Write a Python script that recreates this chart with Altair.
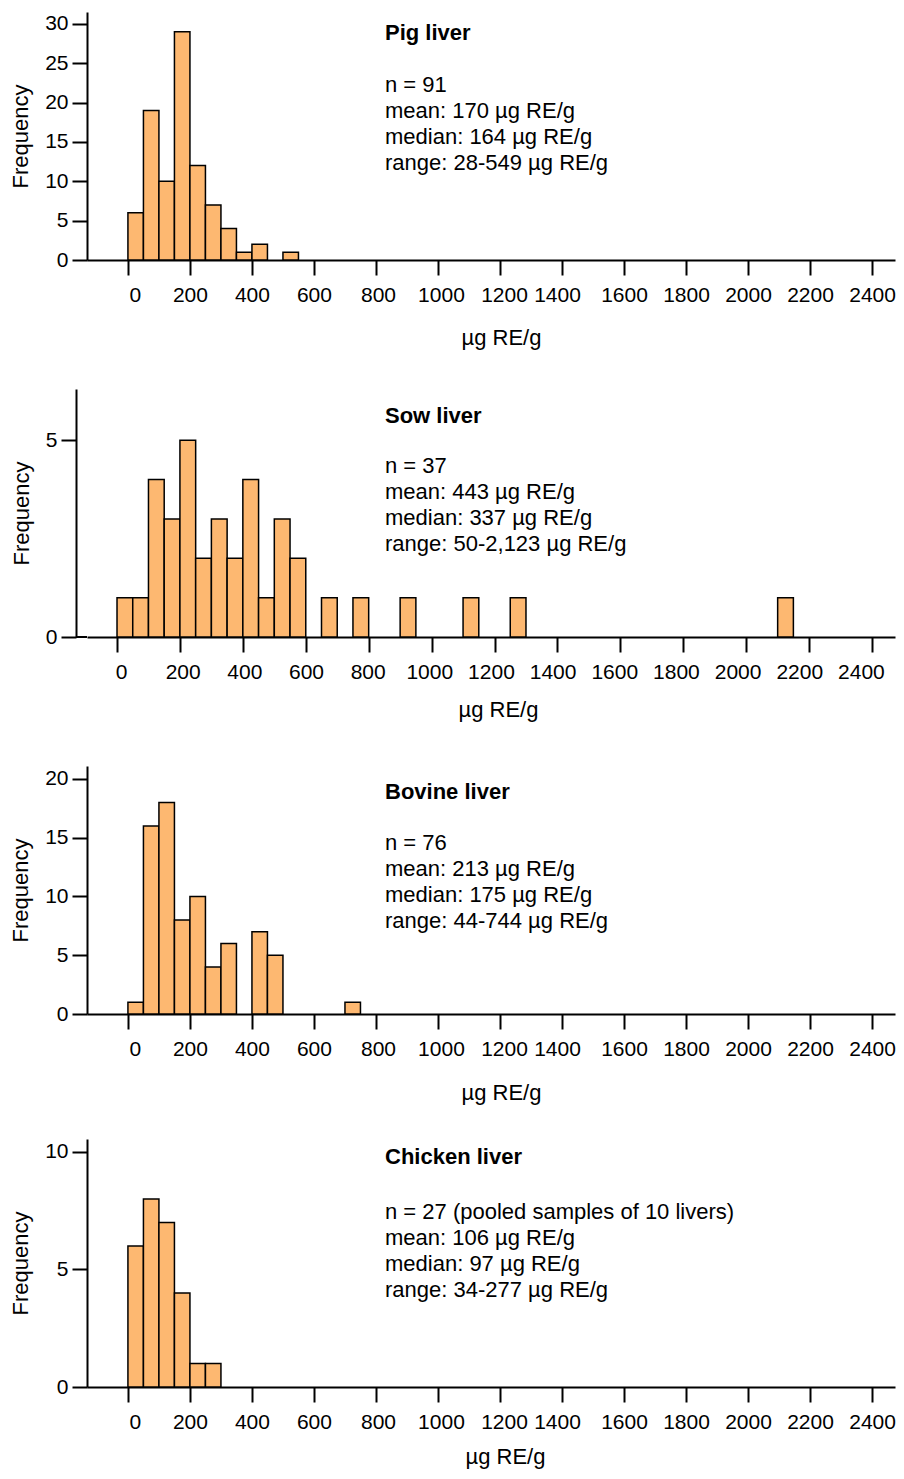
import altair as alt
import pandas as pd

BIN_WIDTH = 50
X_TICKS = list(range(0, 2401, 200))

# ---- data (bin starts in µg RE/g, counts) ----
pig_starts = [0, 50, 100, 150, 200, 250, 300, 350, 400, 500]
pig_counts = [6, 19, 10, 29, 12, 7, 4, 1, 2, 1]

sow_starts = [0, 50, 100, 150, 200, 250, 300, 350, 400, 450, 500, 550,
              650, 750, 900, 1100, 1250, 2100]
sow_counts = [1, 1, 4, 3, 5, 2, 3, 2, 4, 1, 3, 2, 1, 1, 1, 1, 1, 1]

bov_starts = [0, 50, 100, 150, 200, 250, 300, 400, 450, 700]
bov_counts = [1, 16, 18, 8, 10, 4, 6, 7, 5, 1]

chk_starts = [0, 50, 100, 150, 200, 250]
chk_counts = [6, 8, 7, 4, 1, 1]

pig_title = "Pig liver"
pig_info = ["n = 91", "mean: 170 µg RE/g", "median: 164 µg RE/g", "range: 28-549 µg RE/g"]
sow_title = "Sow liver"
sow_info = ["n = 37", "mean: 443 µg RE/g", "median: 337 µg RE/g", "range: 50-2,123 µg RE/g"]
bov_title = "Bovine liver"
bov_info = ["n = 76", "mean: 213 µg RE/g", "median: 175 µg RE/g", "range: 44-744 µg RE/g"]
chk_title = "Chicken liver"
chk_info = ["n = 27 (pooled samples of 10 livers)", "mean: 106 µg RE/g",
            "median: 97 µg RE/g", "range: 34-277 µg RE/g"]

FONT = "Liberation Sans"
FILL = "#FDB871"
W, H = 808, 248


def panel(starts, counts, title, info, ymax, yticks, xmin, xmax,
          label_off, title_x, title_y, body_y, title_pad, y_offset=0, extent=None):
    df = pd.DataFrame({
        "start": starts,
        "end": [s + BIN_WIDTH for s in starts],
        "count": counts,
    })
    xscale = alt.Scale(domain=[xmin, xmax], nice=False, zero=False)
    bars = alt.Chart(df).mark_bar(
        fill=FILL, stroke="black", strokeWidth=1.5
    ).encode(
        x=alt.X("start:Q", scale=xscale,
                axis=alt.Axis(values=X_TICKS, title="µg RE/g", grid=False, format="d",
                              tickSize=15, tickWidth=2, tickColor="black",
                              domainColor="black", domainWidth=2,
                              labelFont=FONT, labelFontSize=21, labelColor="black",
                              labelPadding=9, labelOffset={"expr": label_off},
                              labelOverlap=False, labelFlush=False,
                              titleFont=FONT, titleFontSize=22, titleFontWeight="normal",
                              titleColor="black", titlePadding=title_pad,
                              titleX=title_x, titleAlign="center")),
        x2="end:Q",
        y=alt.Y("count:Q", scale=alt.Scale(domain=[0, ymax], nice=False),
                axis=alt.Axis(values=yticks, title="Frequency", grid=False,
                              offset=y_offset,
                              tickSize=15, tickWidth=2, tickColor="black",
                              domainColor="black", domainWidth=2,
                              labelFont=FONT, labelFontSize=21, labelColor="black",
                              labelPadding=4,
                              titleFont=FONT, titleFontSize=22, titleFontWeight="normal",
                              titleColor="black", titlePadding=12)),
        y2=alt.datum(0),
    )
    head = alt.Chart(pd.DataFrame({"t": [title]})).mark_text(
        font=FONT, fontSize=22, fontWeight="bold", align="left",
        baseline="alphabetic", color="black"
    ).encode(text="t:N", x=alt.value(298), y=alt.value(title_y))
    body = alt.Chart(pd.DataFrame({"t": ["\n".join(info)]})).mark_text(
        font=FONT, fontSize=22, align="left", baseline="alphabetic",
        color="black", lineBreak="\n", lineHeight=26
    ).encode(text="t:N", x=alt.value(298), y=alt.value(body_y))
    layers = [bars, head, body]
    if y_offset:
        gap = alt.Chart(pd.DataFrame({"t": [0]})).mark_rule(
            color="black", strokeWidth=2
        ).encode(x=alt.value(-y_offset), x2=alt.value(0), y=alt.value(H))
        layers.append(gap)
    if extent:
        spacer = alt.Chart(pd.DataFrame({"t": [0]})).mark_rule(
            color="white", opacity=0, strokeWidth=0.5
        ).encode(x=alt.value(1), y=alt.value(H), y2=alt.value(extent))
        layers.append(spacer)
    return alt.layer(*layers).properties(width=W, height=H)


std_off = ("datum.value == 0 ? 7 : datum.value == 800 ? 2 : datum.value == 1000 ? 3 : "
           "datum.value == 1200 ? 4 : datum.value == 1400 ? -5 : 0")
sow_off = "4 - 0.0063 * datum.value"

p1 = panel(pig_starts, pig_counts, pig_title, pig_info, 31.5, [0, 5, 10, 15, 20, 25, 30],
           -132, 2474, std_off, 414, 28, 80, 22, extent=377)
p2 = panel(sow_starts, sow_counts, sow_title, sow_info, 6.3, [0, 5],
           -95.4, 2473, sow_off, 411, 34, 84, 17, y_offset=11, extent=377)
p3 = panel(bov_starts, bov_counts, bov_title, bov_info, 21.1, [0, 5, 10, 15, 20],
           -132, 2474, std_off, 414, 33, 84, 23, extent=373)
p4 = panel(chk_starts, chk_counts, chk_title, chk_info, 10.55, [0, 5, 10],
           -132, 2474, std_off, 418, 25, 80, 14)

chart = alt.vconcat(p1, p2, p3, p4, spacing=0).properties(
    padding={"top": 4, "left": 1, "right": 0, "bottom": 3}
).configure_view(stroke=None)

chart.save("out.html", embed_options={"renderer": "svg", "actions": False})
